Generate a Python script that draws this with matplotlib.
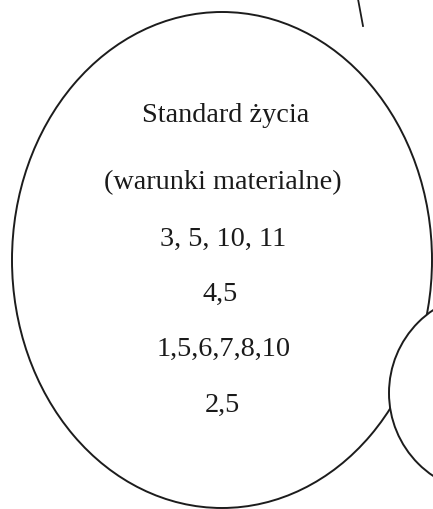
import matplotlib
matplotlib.use('Agg')
import matplotlib.pyplot as plt
from matplotlib.patches import Ellipse

# text lines inside the big ellipse (top to bottom)
labels = ['Standard życia', '(warunki materialne)', '3, 5, 10, 11', '4,5', '1,5,6,7,8,10', '2,5']
label_x = [226, 223, 223, 220, 224, 222]
label_y = [115, 183, 239, 294, 349, 405]

W, H = 433, 510
fig = plt.figure(figsize=(W / 100, H / 100), dpi=100)
ax = fig.add_axes([0, 0, 1, 1])
ax.set_xlim(0, W)
ax.set_ylim(H, 0)
ax.axis('off')

line_kw = dict(edgecolor='#1c1c1c', linewidth=1.4)

# main ellipse
big = Ellipse((222, 261), 2 * 210, 2 * 248, facecolor='none', zorder=1, **line_kw)
ax.add_patch(big)

# neighbouring circle at the bottom right (covers part of the big one)
small = Ellipse((489, 394), 2 * 100, 2 * 100, facecolor='white', zorder=2, **line_kw)
ax.add_patch(small)

# piece of another shape at the top
ax.plot([358, 363], [0, 27], color='#1c1c1c', lw=1.3, zorder=2)

for txt, x, y in zip(labels, label_x, label_y):
    ax.text(x, y, txt, ha='center', va='center', fontsize=20.3,
            family='Liberation Serif', color='#1a1a1a', zorder=3)

fig.savefig('out.png', dpi=100)
